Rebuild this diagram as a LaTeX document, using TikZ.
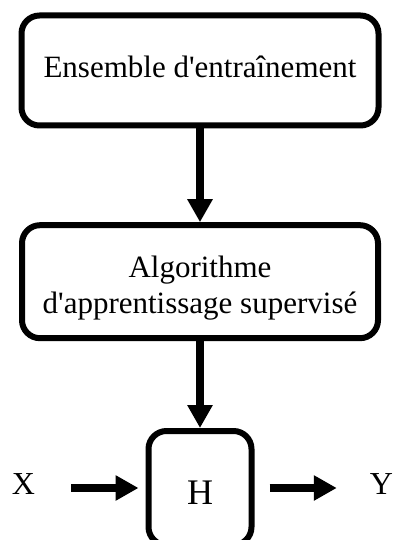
\documentclass[tikz,border=0pt]{standalone}
\usepackage{fontspec}
\setmainfont{Liberation Serif}[Ligatures=TeXOff]
\usetikzlibrary{arrows.meta, positioning}

\begin{document}
\begin{tikzpicture}[x=1pt, y=-1pt,
    block/.style={draw, line width=6pt, rounded corners=18pt, align=center,
        inner sep=0pt, font=\fontsize{31}{36}\selectfont},
    flow/.style={-{Triangle[width=24pt, length=23pt]}, line width=7.5pt},
    io/.style={inner sep=0pt, font=\fontsize{32}{38}\selectfont}]
    \useasboundingbox (0,0) rectangle (392,540);

    % the three boxes
    \node[block, minimum width=357pt, minimum height=110pt, text depth=7pt]
        (data) at (200,70.5) {Ensemble d'entraînement};
    \node[block, minimum width=356pt, minimum height=113pt, text height=69.3pt,
        text depth=6.7pt]
        (algo) at (200,281.7) {Algorithme\\d'apprentissage supervisé};
    \node[block, minimum width=103pt, minimum height=114pt, text height=32pt,
        text depth=0pt, font=\fontsize{36}{43}\selectfont]
        (H) at (200,488) {H};

    % input and output
    \node[io] (X) at (23.5,484) {X};
    \node[io] (Y) at (381.5,484.5) {Y};

    \draw[flow] (data) -- (algo);
    \draw[flow] (algo) -- (H);
    \draw[flow, shorten <=36pt, shorten >=7pt] (X.east |- H) -- (H.west);
    \draw[flow, shorten <=15pt, shorten >=33pt] (H.east) -- (Y.west |- H);
\end{tikzpicture}
\end{document}
